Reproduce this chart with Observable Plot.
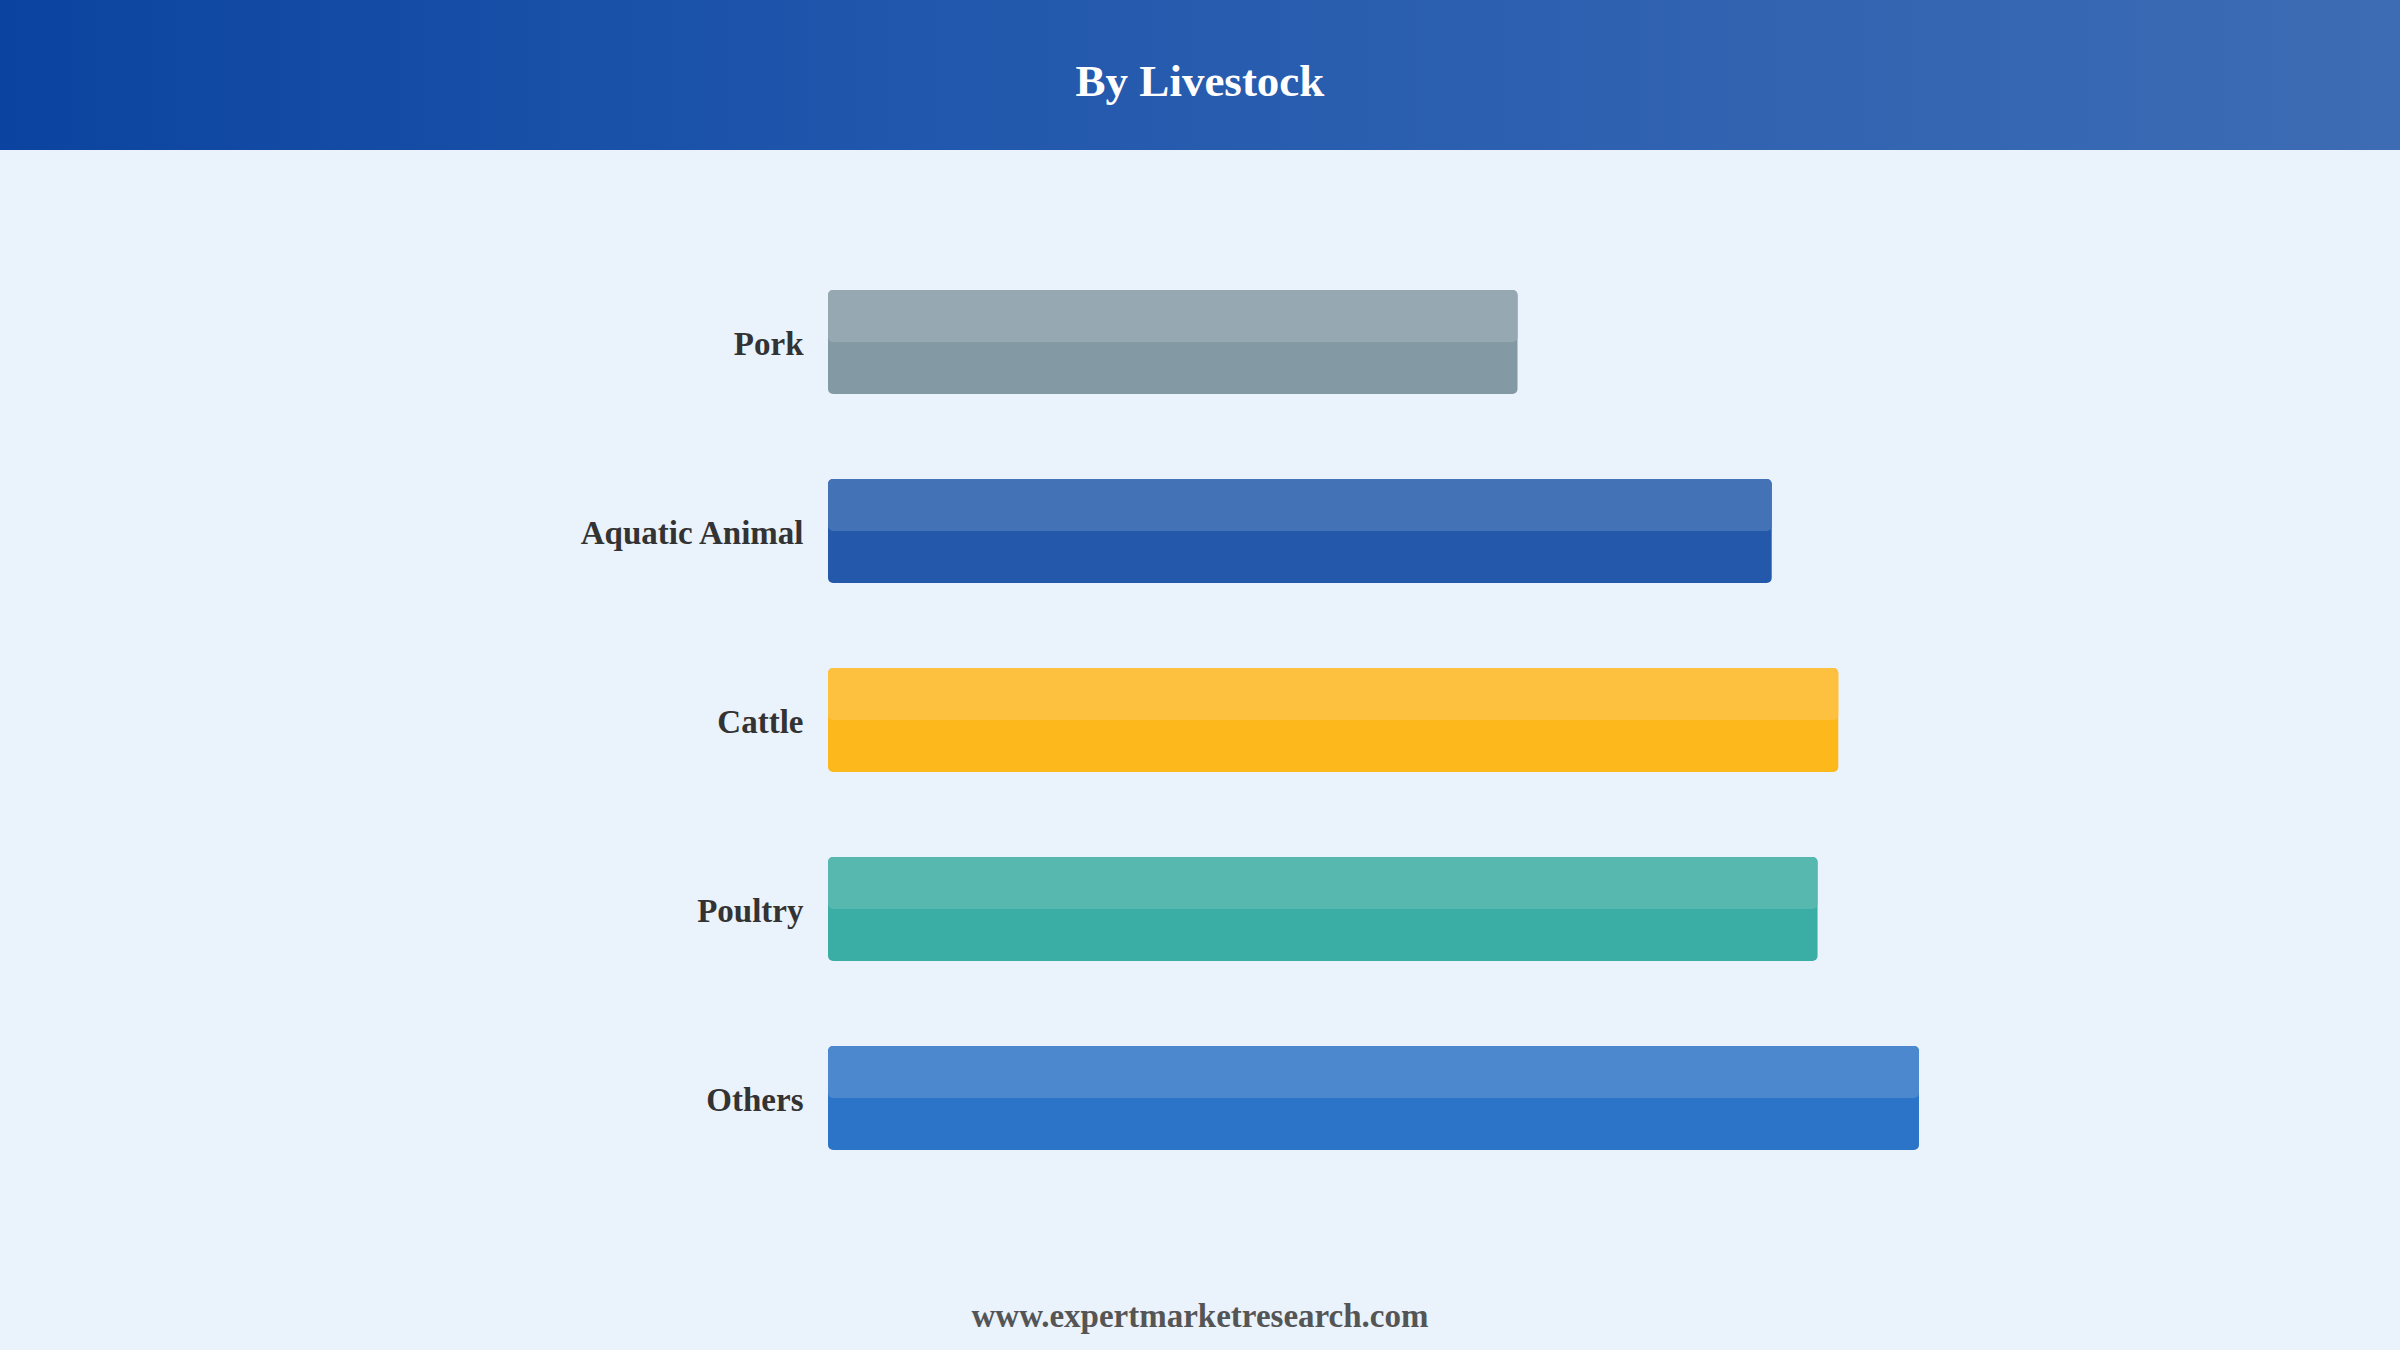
<!DOCTYPE html>
<html>
<head>
<meta charset="utf-8">
<script src="https://cdn.jsdelivr.net/npm/d3@7"></script>
<script src="https://cdn.jsdelivr.net/npm/@observablehq/plot@0.6"></script>
<style>
  html, body { margin: 0; padding: 0; width: 2400px; height: 1350px; overflow: hidden; background: #EAF2FC; }
  body { font-family: "Liberation Serif", "Times New Roman", serif; }
  #header {
    height: 150px; width: 2400px;
    background: linear-gradient(to right, #0B44A0 0%, #2258AD 40%, #3D6CB4 100%);
    color: #fff; font-weight: bold; font-size: 45px; text-align: center; line-height: 162px;
  }
  #chart { height: 1100px; }
  #footer { height: 100px; text-align: center; color: #555; font-weight: bold; font-size: 33px; line-height: 1; padding-top: 50px; box-sizing: border-box; }
</style>
</head>
<body>
<div id="header">By Livestock</div>
<div id="chart"></div>
<div id="footer">www.expertmarketresearch.com</div>
<script>
const categories = ["Pork", "Aquatic Animal", "Cattle", "Poultry", "Others"];
const values = [63.2, 86.5, 92.6, 90.7, 100];
const topColors = ["#96A8B1", "#4372B6", "#FEC13F", "#57B8AF", "#4B88CE"];
const bottomColors = ["#839AA4", "#2358AB", "#FDB81C", "#3AAEA4", "#2B74C7"];

const data = categories.map((c, i) => ({name: c, value: values[i], top: topColors[i], bottom: bottomColors[i]}));

const chart = Plot.plot({
  width: 2400,
  height: 1100,
  marginLeft: 828,
  marginRight: 481,
  marginTop: 97,
  marginBottom: 58,
  style: {background: "transparent", fontFamily: "'Liberation Serif', 'Times New Roman', serif"},
  x: {domain: [0, 100], axis: null},
  y: {domain: categories, paddingInner: 0.45, paddingOuter: 0.225, label: null},
  color: {type: "identity"},
  marks: [
    Plot.barX(data, {y: "name", x: "value", fill: "bottom", rx: 5}),
    Plot.barX(data, {y: "name", x: "value", fill: "top", rx: 5, insetBottom: 52}),
    Plot.axisY({tickSize: 0, tickPadding: 25, fontSize: 33, fontWeight: "bold", color: "#333", label: null, dy: 2})
  ]
});
document.getElementById("chart").appendChild(chart);
</script>
</body>
</html>
